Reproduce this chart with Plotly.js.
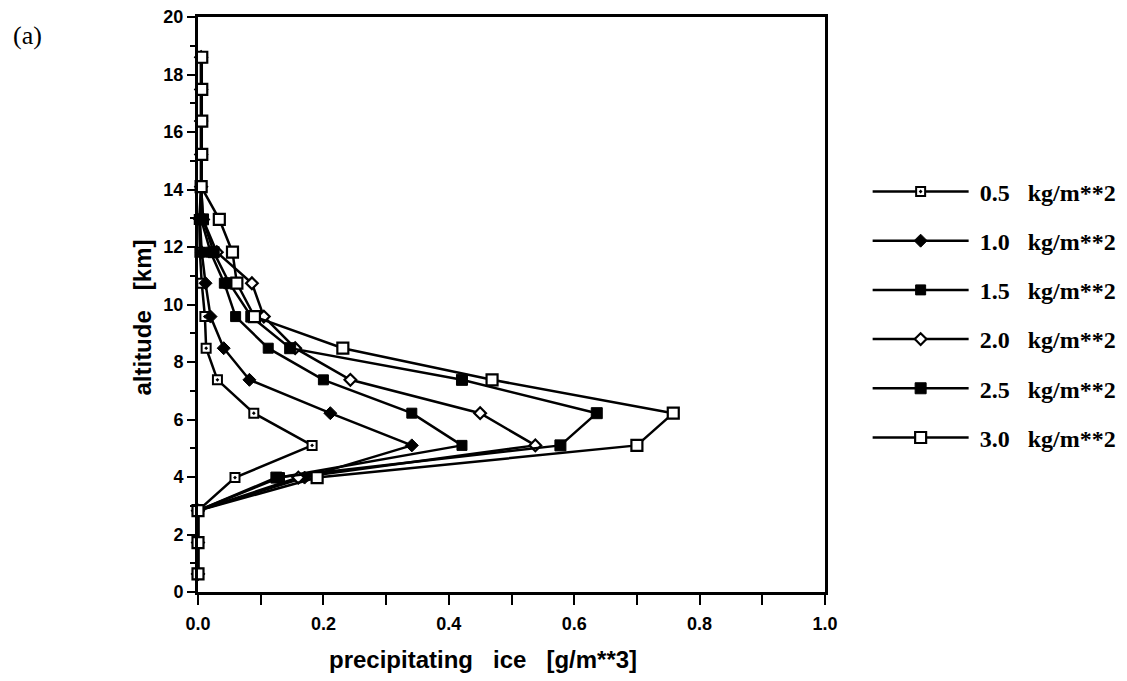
<!DOCTYPE html>
<html>
<head>
<meta charset="utf-8">
<script src="https://cdn.plot.ly/plotly-3.0.1.min.js"></script>
<style>html,body{margin:0;padding:0;background:#fff;}#chart{width:1127px;height:681px;}</style>
</head>
<body>
<div id="chart"></div>
<script>
// altitude levels [km]
const altitude = [0.63, 1.72, 2.83, 3.98, 5.10, 6.22, 7.38, 8.48, 9.58, 10.74, 11.82, 12.96, 14.10, 15.22, 16.38, 17.48, 18.60];
// precipitating ice [g/m**3] per column ice amount
const ice05 = [0, 0, 0, 0.059, 0.182, 0.089, 0.031, 0.013, 0.011, 0.006, 0.003, 0.002, 0.005, 0.006, 0.006, 0.006, 0.006];
const ice10 = [0, 0, 0, 0.170, 0.341, 0.211, 0.082, 0.041, 0.020, 0.012, 0.006, 0.003, 0.005, 0.005, 0.005, 0.005, 0.005];
const ice15 = [0, 0, 0, 0.130, 0.421, 0.341, 0.200, 0.112, 0.060, 0.042, 0.020, 0.005, 0.005, 0.005, 0.005, 0.005, 0.005];
const ice20 = [0, 0, 0, 0.160, 0.538, 0.450, 0.243, 0.155, 0.105, 0.086, 0.030, 0.008, 0.005, 0.005, 0.005, 0.005, 0.005];
const ice25 = [0, 0, 0, 0.125, 0.578, 0.636, 0.421, 0.147, 0.085, 0.050, 0.025, 0.008, 0.005, 0.005, 0.005, 0.005, 0.005];
const ice30 = [0, 0, 0, 0.190, 0.700, 0.758, 0.469, 0.231, 0.090, 0.062, 0.055, 0.034, 0.005, 0.006, 0.006, 0.006, 0.006];
const seriesLabels = ["&nbsp;0.5&nbsp;&nbsp; kg/m**2", "&nbsp;1.0&nbsp;&nbsp; kg/m**2", "&nbsp;1.5&nbsp;&nbsp; kg/m**2", "&nbsp;2.0&nbsp;&nbsp; kg/m**2", "&nbsp;2.5&nbsp;&nbsp; kg/m**2", "&nbsp;3.0&nbsp;&nbsp; kg/m**2"];
const xTickVals = [0, 0.2, 0.4, 0.6, 0.8, 1.0];
const xTickText = ["0.0", "0.2", "0.4", "0.6", "0.8", "1.0"];
const yTickVals = [0, 2, 4, 6, 8, 10, 12, 14, 16, 18, 20];
const xTitle = 'precipitating&nbsp;&nbsp; ice&nbsp;&nbsp; [g/m**3]';
const yTitle = 'altitude&nbsp;&nbsp; [km]';
const panelLabel = '(a)';

const seriesValues = [ice05, ice10, ice15, ice20, ice25, ice30];
const markerStyles = [
  {symbol: 'square-dot', size: 9, color: '#fff', line: {color: '#000', width: 2}},
  {symbol: 'diamond', size: 10, color: '#000', line: {color: '#000', width: 1}},
  {symbol: 'square', size: 10, color: '#000', line: {color: '#000', width: 1}},
  {symbol: 'diamond', size: 9, color: '#fff', line: {color: '#000', width: 2.2}},
  {symbol: 'square', size: 11, color: '#000', line: {color: '#000', width: 1}},
  {symbol: 'square', size: 11, color: '#fff', line: {color: '#000', width: 2.2}}
];

const traces = seriesValues.map((vals, i) => ({
  type: 'scatter',
  mode: 'lines+markers',
  x: vals,
  y: altitude,
  name: seriesLabels[i],
  legendgroup: 'g' + i,
  line: {color: '#000', width: 2.5},
  marker: markerStyles[i],
  cliponaxis: false
}));

const sans = 'Liberation Sans, Arial, sans-serif';
const serif = 'Liberation Serif, Times New Roman, serif';

const layout = {
  width: 1127,
  height: 681,
  paper_bgcolor: '#fff',
  plot_bgcolor: '#fff',
  margin: {l: 198, r: 302, t: 17, b: 89, autoexpand: false},
  showlegend: true,
  legend: {
    x: 1.068, xanchor: 'left',
    y: 0.735, yanchor: 'top',
    traceorder: 'grouped',
    tracegroupgap: 15,
    itemwidth: 96,
    font: {family: serif, size: 24, color: '#000', weight: 'bold'},
    bgcolor: 'rgba(0,0,0,0)'
  },
  xaxis: {
    range: [0, 1.0],
    tickvals: xTickVals,
    ticktext: xTickText,
    ticks: 'outside', ticklen: 10, tickwidth: 2, tickcolor: '#000',
    minor: {dtick: 0.1, ticks: 'outside', ticklen: 10, tickwidth: 2, tickcolor: '#000'},
    showline: true, linecolor: '#000', linewidth: 3,
    mirror: true,
    showgrid: false, zeroline: false,
    ticklabelstandoff: 3,
    tickfont: {family: sans, size: 18, color: '#000', weight: 'bold'}
  },
  yaxis: {
    range: [0, 20],
    tickvals: yTickVals,
    ticks: 'outside', ticklen: 8, tickwidth: 2, tickcolor: '#000',
    minor: {dtick: 1, ticks: 'outside', ticklen: 5, tickwidth: 2, tickcolor: '#000'},
    showline: true, linecolor: '#000', linewidth: 3,
    mirror: true,
    showgrid: false, zeroline: false,
    tickfont: {family: sans, size: 18, color: '#000', weight: 'bold'}
  },
  annotations: [
    {text: panelLabel, xref: 'paper', yref: 'paper', x: -0.298, y: 0.968, xanchor: 'left', yanchor: 'middle',
     showarrow: false, font: {family: serif, size: 26, color: '#000'}},
    {text: xTitle, xref: 'paper', yref: 'paper', x: 0.455, y: -0.118, xanchor: 'center', yanchor: 'middle',
     showarrow: false, font: {family: sans, size: 24, color: '#000', weight: 'bold'}},
    {text: yTitle, xref: 'paper', yref: 'paper', x: -0.088, y: 0.477, xanchor: 'center', yanchor: 'middle', textangle: -90,
     showarrow: false, font: {family: sans, size: 24, color: '#000', weight: 'bold'}}
  ]
};

Plotly.newPlot('chart', traces, layout, {displayModeBar: false, staticPlot: true});
</script>
</body>
</html>
